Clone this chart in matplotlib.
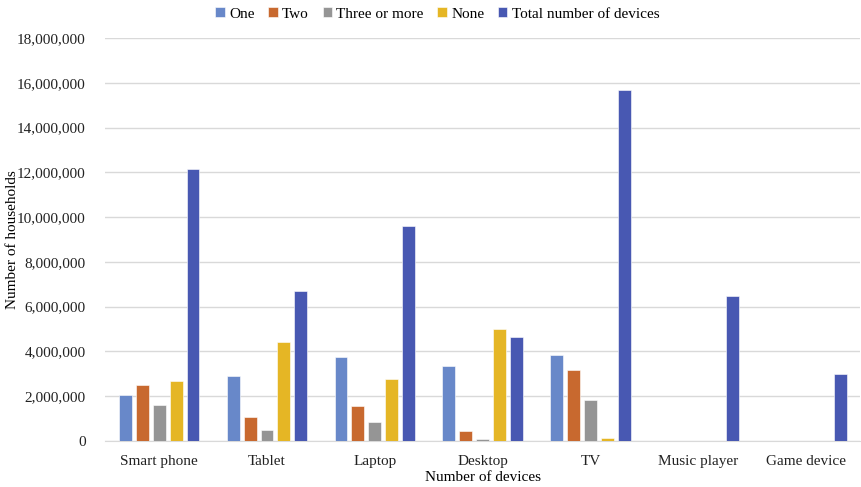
import numpy as np
import matplotlib
matplotlib.use("Agg")
import matplotlib.pyplot as plt
from matplotlib.ticker import FuncFormatter

categories = ["Smart phone", "Tablet", "Laptop", "Desktop", "TV", "Music player", "Game device"]
series_names = ["One", "Two", "Three or more", "None", "Total number of devices"]
one = [2070000, 2890000, 3740000, 3350000, 3830000, np.nan, np.nan]
two = [2520000, 1090000, 1550000, 450000, 3170000, np.nan, np.nan]
three = [1610000, 490000, 870000, 80000, 1820000, np.nan, np.nan]
none = [2670000, 4440000, 2760000, 5020000, 150000, np.nan, np.nan]
total = [12140000, 6690000, 9600000, 4650000, 15670000, 6460000, 2990000]
colors = ["#6888C9", "#C8692F", "#959595", "#E5B625", "#4858B2"]

plt.rcParams['font.family'] = ['Liberation Serif', 'DejaVu Serif']

fig = plt.figure(figsize=(8.62, 4.87), dpi=100)
ax = fig.add_axes([0.122, 0.0945, 0.876, 0.8275])

x = np.arange(len(categories))
bw = 0.12
step = 0.157
data = [one, two, three, none, total]
for i, (vals, c, name) in enumerate(zip(data, colors, series_names)):
    ax.bar(x + (i - 2) * step, vals, width=bw, color=c, label=name,
           edgecolor="white", linewidth=0.4, zorder=3)

ax.set_ylim(0, 18000000)
ax.set_yticks(np.arange(0, 18000001, 2000000))
ax.yaxis.set_major_formatter(FuncFormatter(lambda v, p: f"{int(v):,}"))
ax.set_xlim(-0.5, len(categories) - 0.5)
ax.set_xticks(x)
ax.set_xticklabels(categories)
ax.grid(axis='y', color='#D9D9D9', linewidth=1, zorder=0)
for s in ["top", "right", "left"]:
    ax.spines[s].set_visible(False)
ax.spines["bottom"].set_color("#D9D9D9")
ax.tick_params(axis='both', length=0, labelsize=11, colors='#222222')
ax.tick_params(axis='y', pad=14)
ax.tick_params(axis='x', pad=10)
ax.set_xlabel("Number of devices", fontsize=11)
ax.xaxis.set_label_coords(0.5, -0.075)
ax.set_ylabel("Number of households", fontsize=11)
ax.yaxis.set_label_coords(-0.114, 0.5)

ax.legend(loc="upper center", bbox_to_anchor=(0.44, 1.11), ncol=5, frameon=False,
          fontsize=11, handlelength=0.6, handleheight=0.6, handletextpad=0.3,
          columnspacing=0.9)

fig.savefig("out.png", dpi=100)
